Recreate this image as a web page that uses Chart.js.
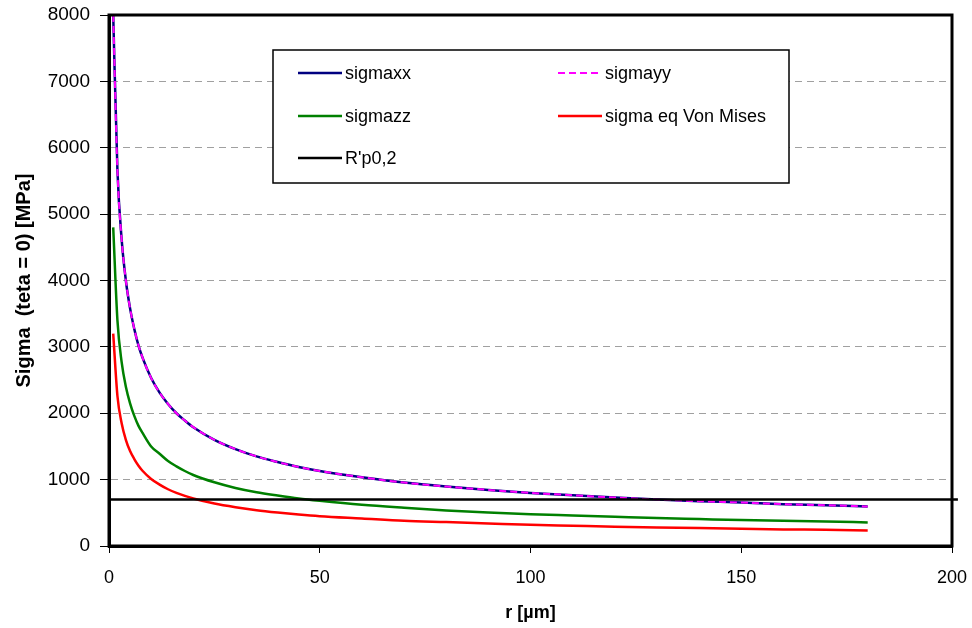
<!DOCTYPE html>
<html>
<head>
<meta charset="utf-8">
<script src="https://cdn.jsdelivr.net/npm/chart.js@4/dist/chart.umd.min.js"></script>
<style>
  html, body { margin: 0; padding: 0; background: #fff; }
  #wrap { width: 972px; height: 628px; }
</style>
</head>
<body>
<div id="wrap"><canvas id="stress-chart" width="972" height="628"></canvas></div>
<script>
// r in micrometres, stresses in MPa (teta = 0)
const radius = [1, 2, 3, 4, 5, 6, 7, 8, 10, 12, 14, 16, 18, 20, 25, 30, 35, 40, 45, 50,
  60, 70, 80, 90, 100, 110, 120, 130, 140, 150, 160, 170, 180];
const sigmaXX = [8000, 5660, 4620, 4000, 3580, 3270, 3020, 2830, 2530, 2310, 2140, 2000, 1890, 1790,
  1600, 1460, 1350, 1265, 1190, 1130, 1035, 955, 895, 845, 800, 765, 730, 700, 675, 655, 630, 615, 595];
const sigmaYY = [8000, 5660, 4620, 4000, 3580, 3270, 3020, 2830, 2530, 2310, 2140, 2000, 1890, 1790,
  1600, 1460, 1350, 1265, 1190, 1130, 1035, 955, 895, 845, 800, 765, 730, 700, 675, 655, 630, 615, 595];
const sigmaZZ = [4800, 3400, 2770, 2400, 2150, 1960, 1810, 1700, 1500, 1390, 1280, 1200, 1130, 1070,
  960, 875, 810, 760, 715, 680, 620, 575, 535, 505, 480, 460, 440, 420, 405, 390, 380, 370, 355];
const sigmaVM = [3200, 2260, 1850, 1600, 1430, 1310, 1210, 1130, 1010, 925, 855, 800, 755, 715,
  640, 585, 540, 505, 475, 450, 415, 380, 360, 340, 320, 305, 290, 280, 270, 260, 250, 245, 235];
const rp02Range = [0, 201.4];
const rp02 = 700;
const xTicks = [0, 50, 100, 150, 200];
const yTicks = [0, 1000, 2000, 3000, 4000, 5000, 6000, 7000, 8000];

const FONT = '"Liberation Sans", Arial, sans-serif';

function pts(ys) {
  return radius.map((r, i) => ({ x: r, y: ys[i] }));
}

// legend drawn as a boxed 2-column grid inside the plot
const boxLegend = {
  id: 'boxLegend',
  afterDraw(chart) {
    const ctx = chart.ctx;
    const box = { x: 273, y: 50, w: 516, h: 133 };
    ctx.save();
    ctx.fillStyle = '#fff';
    ctx.fillRect(box.x, box.y, box.w, box.h);
    ctx.lineWidth = 1.5;
    ctx.strokeStyle = '#000';
    ctx.strokeRect(box.x, box.y, box.w, box.h);
    const slots = [
      { ds: 0, x: 298, y: 73 }, { ds: 1, x: 558, y: 73 },
      { ds: 2, x: 298, y: 116 }, { ds: 3, x: 558, y: 116 },
      { ds: 4, x: 298, y: 158 }
    ];
    ctx.font = '18px ' + FONT;
    ctx.textBaseline = 'middle';
    ctx.textAlign = 'left';
    slots.forEach(s => {
      const d = chart.data.datasets[s.ds];
      ctx.beginPath();
      ctx.setLineDash(d.borderDash || []);
      ctx.lineWidth = d.borderWidth;
      ctx.strokeStyle = d.borderColor;
      ctx.moveTo(s.x, s.y);
      ctx.lineTo(s.x + 44, s.y);
      ctx.stroke();
      ctx.setLineDash([]);
      ctx.fillStyle = '#000';
      ctx.fillText(d.label, s.x + 47, s.y + 1);
    });
    ctx.restore();
  }
};

const frame = {
  id: 'frame',
  afterDatasetsDraw(chart) {
    const a = chart.chartArea;
    const ctx = chart.ctx;
    ctx.save();
    ctx.lineWidth = 3;
    ctx.strokeStyle = '#000';
    ctx.strokeRect(a.left, a.top, a.right - a.left, a.bottom - a.top);
    ctx.restore();
  }
};

const ctx = document.getElementById('stress-chart').getContext('2d');
new Chart(ctx, {
  type: 'line',
  data: {
    datasets: [
      { label: 'sigmaxx', data: pts(sigmaXX), borderColor: '#000080', borderWidth: 2.5, order: 2 },
      { label: 'sigmayy', data: pts(sigmaYY), borderColor: '#ff00ff', borderWidth: 2, borderDash: [7, 4], order: 1 },
      { label: 'sigmazz', data: pts(sigmaZZ), borderColor: '#008000', borderWidth: 2.5, order: 3 },
      { label: 'sigma eq Von Mises', data: pts(sigmaVM), borderColor: '#ff0000', borderWidth: 2.5, order: 4 },
      { label: "R'p0,2", data: rp02Range.map(x => ({ x: x, y: rp02 })), borderColor: '#000', borderWidth: 2.5,
        clip: false, order: 0, cubicInterpolationMode: 'default' }
    ]
  },
  options: {
    responsive: false,
    animation: false,
    elements: {
      point: { radius: 0 },
      line: { fill: false, cubicInterpolationMode: 'monotone' }
    },
    layout: { padding: { left: 0, top: 15, right: 20, bottom: 0 } },
    plugins: {
      legend: { display: false },
      tooltip: { enabled: false }
    },
    scales: {
      x: {
        type: 'linear',
        min: 0, max: 200,
        afterBuildTicks: s => { s.ticks = xTicks.map(v => ({ value: v })); },
        afterFit: s => { s.height = 82; s.paddingLeft = 0; s.paddingRight = 0; },
        grid: { drawOnChartArea: false, tickLength: 7, tickColor: '#000', tickWidth: 1 },
        border: { color: '#000', width: 3 },
        ticks: { color: '#000', padding: 14, font: { family: FONT, size: 18 },
          callback: v => String(v) },
        title: { display: true, text: 'r [µm]', color: '#000', padding: { top: 2 },
          font: { family: FONT, size: 18, weight: 'bold' } }
      },
      y: {
        min: 0, max: 8000,
        afterBuildTicks: s => { s.ticks = yTicks.map(v => ({ value: v })); },
        afterFit: s => { s.width = 109; s.paddingTop = 0; s.paddingBottom = 0; },
        grid: { color: '#a0a0a0', lineWidth: 1, tickLength: 9, tickColor: '#000', tickWidth: 1 },
        border: { color: '#000', width: 3, dash: [7, 5] },
        ticks: { color: '#000', padding: 10, font: { family: FONT, size: 19 },
          callback: v => String(v) },
        title: { display: true, text: 'Sigma  (teta = 0) [MPa]', color: '#000', padding: { top: 12, bottom: 0 },
          font: { family: FONT, size: 20, weight: 'bold' } }
      }
    }
  },
  plugins: [frame, boxLegend]
});
</script>
</body>
</html>
